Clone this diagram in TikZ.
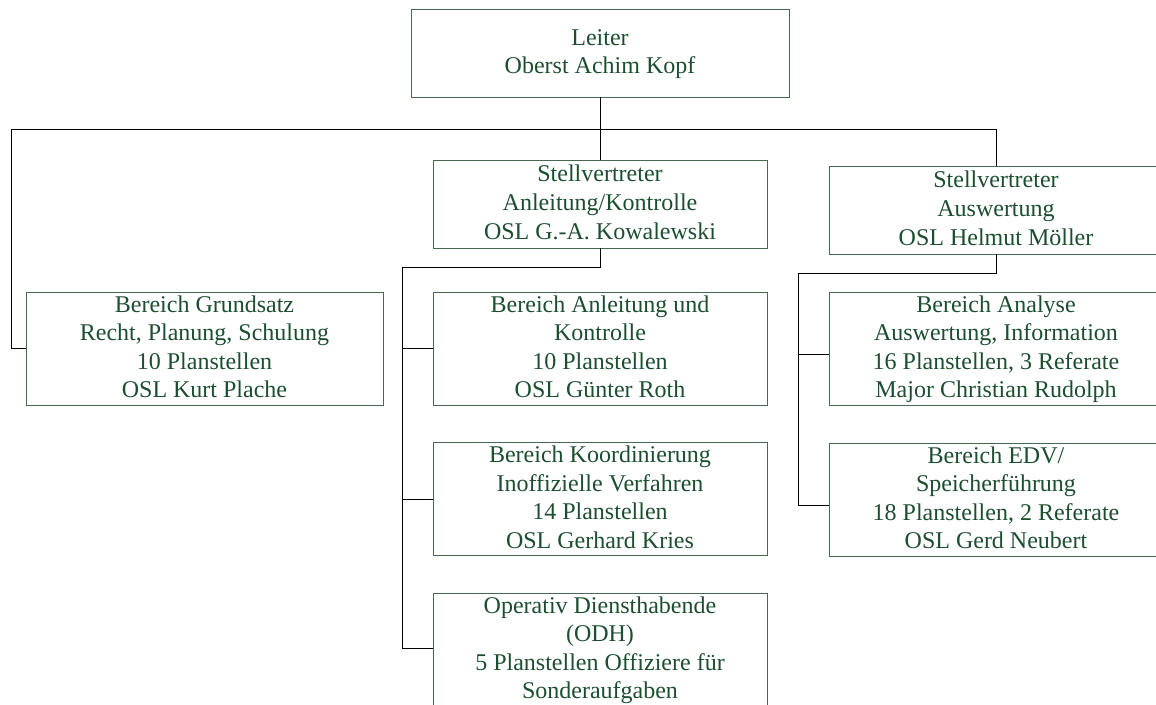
\documentclass[tikz,border=0pt]{standalone}
\usepackage{fontspec}
\setmainfont{Liberation Serif}
\usetikzlibrary{calc}
\definecolor{textgreen}{RGB}{28,78,48}
\definecolor{boxgreen}{RGB}{70,105,82}
% line strut: fixed height and depth for every text line
\newcommand{\ls}{\rule[-7pt]{0pt}{27pt}}
\tikzset{
  unit box/.style={draw=boxgreen, line width=0.9pt, inner sep=0pt, align=center,
    text=textgreen, font=\fontsize{24}{28.6}\selectfont,
    minimum width=334pt, minimum height=113pt},
  link/.style={draw=black, line width=1pt}
}
\begin{document}
\begin{tikzpicture}[x=1pt,y=-1pt]
\useasboundingbox (0,0) rectangle (1156,704);
\clip (0,0) rectangle (1156,704);

% boxes
\node[unit box, minimum width=378pt, minimum height=88pt] (leiter) at (600,53)
  {\ls Leiter\\\ls Oberst Achim Kopf};
\node[unit box, minimum width=357pt] (grund) at (204.5,348.5)
  {\ls Bereich Grundsatz\\\ls Recht, Planung, Schulung\\\ls 10 Planstellen\\\ls OSL Kurt Plache};
\node[unit box, minimum height=88pt] (stvak) at (600,204)
  {\ls Stellvertreter\\\ls Anleitung/Kontrolle\\\ls OSL G.-A. Kowalewski};
\node[unit box, minimum height=88pt] (stvaw) at (996,210)
  {\ls Stellvertreter\\\ls Auswertung\\\ls OSL Helmut Möller};
\node[unit box] (anl) at (600,348.5)
  {\ls Bereich Anleitung und\\\ls Kontrolle\\\ls 10 Planstellen\\\ls OSL Günter Roth};
\node[unit box, minimum height=112pt] (koord) at (600,499)
  {\ls Bereich Koordinierung\\\ls Inoffizielle Verfahren\\\ls 14 Planstellen\\\ls OSL Gerhard Kries};
\node[unit box] (odh) at (600,649.5)
  {\ls Operativ Diensthabende\\\ls (ODH)\\\ls 5 Planstellen Offiziere für\\\ls Sonderaufgaben};
\node[unit box] (analyse) at (996,348.5)
  {\ls Bereich Analyse\\\ls Auswertung, Information\\\ls 16 Planstellen, 3 Referate\\\ls Major Christian Rudolph};
\node[unit box] (edv) at (996,499.5)
  {\ls Bereich EDV/\\\ls Speicherführung\\\ls 18 Planstellen, 2 Referate\\\ls OSL Gerd Neubert};

% top bus
\coordinate (busL) at (11,129);
\coordinate (busR) at (996,129);
\draw[link] (busL) -- (busR);
\draw[link] (leiter.south) -- (leiter.south |- busL);
\draw[link] (busL) |- (grund.west);
\draw[link] (stvak.north |- busL) -- (stvak.north);
\draw[link] (busR) -- (stvaw.north);

% middle branch
\coordinate (mL) at (402,267);
\draw[link] (stvak.south) |- (mL);
\draw[link] (mL) |- ($(odh.west)+(0,-1.5)$);
\draw[link] (mL |- anl.west) -- (anl.west);
\draw[link] (mL |- koord.west) -- (koord.west);

% right branch
\coordinate (rL) at (798,273);
\coordinate (rA) at ($(analyse.west)+(0,6)$);
\coordinate (rE) at ($(edv.west)+(0,5.5)$);
\draw[link] (stvaw.south) |- (rL);
\draw[link] (rL) |- (rE);
\draw[link] (rL |- rA) -- (rA);
\end{tikzpicture}
\end{document}
